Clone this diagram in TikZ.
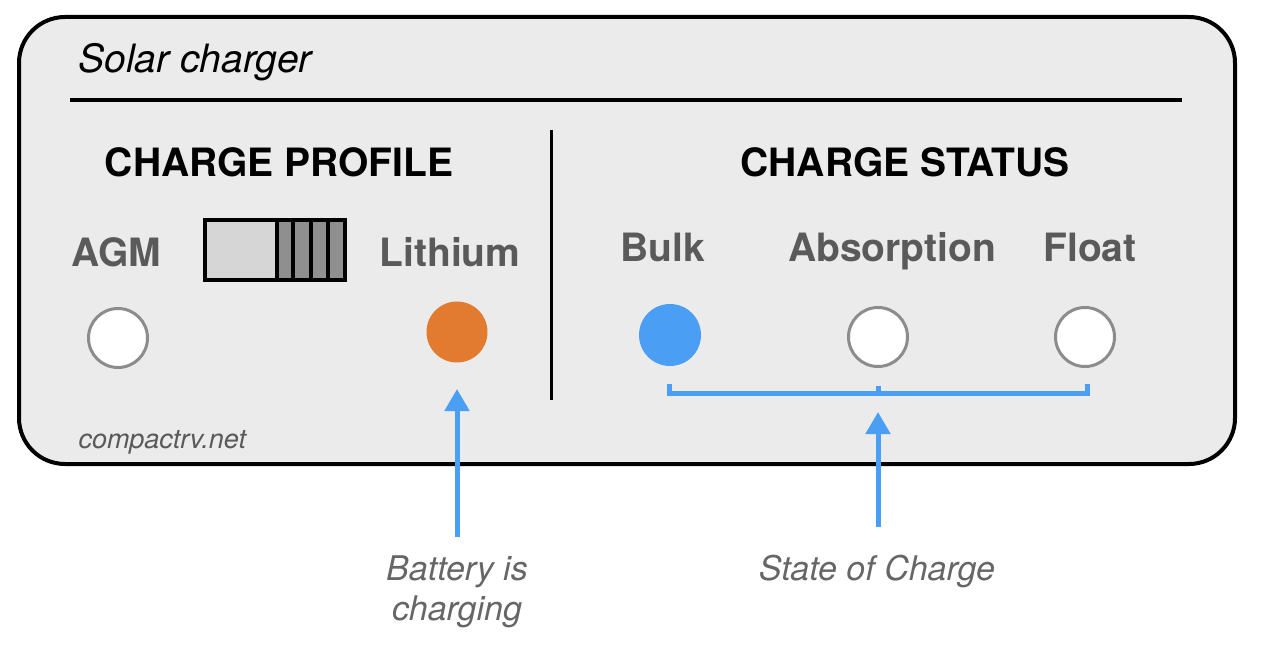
\documentclass[tikz,border=0pt]{standalone}
\usepackage{fontspec}
\setmainfont{TeX Gyre Heros}
\usetikzlibrary{positioning,arrows.meta}
\definecolor{panel}{HTML}{EBEBEB}
\definecolor{labelgray}{HTML}{5A5A5A}
\definecolor{notegray}{HTML}{666666}
\definecolor{ledrim}{HTML}{8C8C8C}
\definecolor{ledblue}{HTML}{4A9FF5}
\definecolor{ledorange}{HTML}{E27A30}
\definecolor{slidelight}{HTML}{D6D6D6}
\definecolor{slidedark}{HTML}{8F8F8F}
\begin{document}
\begin{tikzpicture}[x=1pt, y=-1pt,
  led/.style = {draw=ledrim, line width=3pt, circle, minimum size=59pt, inner sep=0pt, fill=white},
  heading/.style = {font=\bfseries\fontsize{39}{44}\selectfont, anchor=base},
  ledlabel/.style = {font=\bfseries\fontsize{39}{44}\selectfont, text=labelgray, anchor=base},
  note/.style = {font=\itshape\fontsize{34}{40}\selectfont, text=notegray, align=center, anchor=base},
  pointer/.style = {draw=ledblue, line width=5pt, -{Triangle[length=22pt,width=24pt]}}]
\useasboundingbox (0,0) rectangle (1272,652);
% panel
\draw[line width=4pt, rounded corners=46pt, fill=panel] (19,17) rectangle (1235,464);
\node[anchor=base west, font=\itshape\fontsize{39}{44}\selectfont] (name) at (75,73) {Solar charger};
\draw[line width=4pt] (70,100) -- (1182,100);
\draw[line width=3pt] (551,130) -- (551,400);
\node[anchor=base west, font=\itshape\fontsize{27}{32}\selectfont, text=labelgray] (site) at (75,448) {compactrv.net};
% charge profile
\node[heading] (profile) at (279,177) {CHARGE PROFILE};
\node[ledlabel] (agmlabel) at (116,267) {AGM};
\node[ledlabel] (lithlabel) at (450,267) {Lithium};
\node[led] (agm) at (118,338) {};
\node[led, draw=none, fill=ledorange, minimum size=61pt] (lithium) at (457,332) {};
% switch
\fill[slidelight] (205,220) rectangle (277,280);
\fill[slidedark] (277,220) rectangle (345,280);
\foreach \x in {277,293,311,328}
  \draw[line width=3.5pt] (\x,220) -- (\x,280);
\draw[line width=4pt] (205,220) rectangle (345,280);
% charge status
\node[heading] (status) at (905,177) {CHARGE STATUS};
\node[ledlabel] (bulklabel) at (663,262) {Bulk};
\node[ledlabel] (abslabel) at (892,262) {Absorption};
\node[ledlabel] (floatlabel) at (1090,262) {Float};
\node[led, draw=none, fill=ledblue, minimum size=62pt] (bulk) at (670,335) {};
\node[led] (absorption) at (878,337) {};
\node[led] (float) at (1085,337) {};
\draw[ledblue, line width=5pt] (669,384) -- (669,393) -- (1087,393) -- (1087,384);
\coordinate (mid) at (878,393);
\draw[ledblue, line width=5pt] (878,386) -- (mid);
% notes
\node[note] (batnote) at (457,620) {Battery is\\charging};
\node[note] (socnote) at (877,580) {State of Charge};
\coordinate (battail) at (457,537);
\coordinate (soctail) at (878,527);
\draw[pointer, shorten >=25pt] (battail) -- (lithium.south);
\draw[pointer, shorten >=19pt] (soctail) -- (mid);
\end{tikzpicture}
\end{document}
